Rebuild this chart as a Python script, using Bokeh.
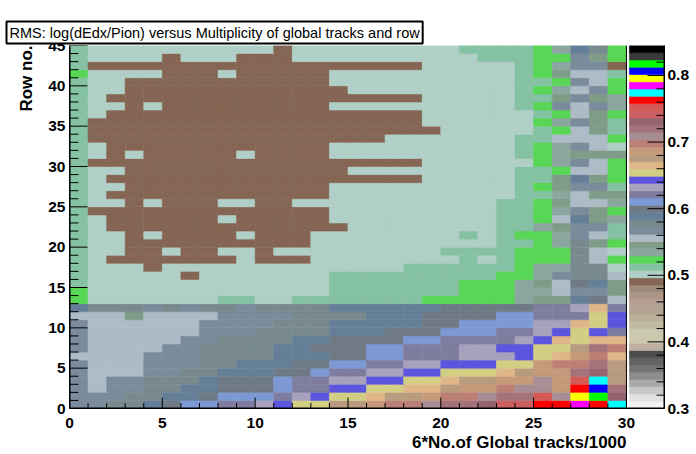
from bokeh.embed import file_html
from bokeh.resources import INLINE
from bokeh.plotting import figure
from bokeh.models import (ColumnDataSource, FixedTicker, LinearAxis, LinearColorMapper,
                          PrintfTickFormatter, Range1d, Span, Title)
from bokeh.transform import transform
import numpy as np

TITLE = "RMS: log(dEdx/Pion) versus Multiplicity of global tracks and row"
X_LABEL = "6*No.of Global tracks/1000"
Y_LABEL = "Row no."
X_TICKS = [0, 5, 10, 15, 20, 25, 30]
Y_TICKS = [0, 5, 10, 15, 20, 25, 30, 35, 40, 45]
X_MINOR = [i for i in range(0, 31) if i not in X_TICKS]
Y_MINOR = [i for i in range(0, 46) if i not in Y_TICKS]
Z_TICKS = [0.3, 0.4, 0.5, 0.6, 0.7, 0.8]
Z_MINOR = [0.32, 0.34, 0.36, 0.38, 0.42, 0.44, 0.46, 0.48, 0.52, 0.54, 0.56, 0.58,
           0.62, 0.64, 0.66, 0.68, 0.72, 0.74, 0.76, 0.78, 0.82, 0.84]

# Colour levels of the z axis, lowest value first
PALETTE = [
    "#f2f2f2", "#e2e2e2", "#c8c8c8", "#a9a9a9", "#8d8d8d", "#757575", "#636363", "#4b4b4b",
    "#bcaea0", "#ccc8ad", "#ccc8ad", "#c0bba3", "#baae97", "#b2a391", "#b5a096", "#ad9585",
    "#9e8a7a", "#856553", "#b0cfc6", "#85c1a3", "#57d755", "#8ba69f", "#7f9c88", "#adbbc6",
    "#7a8c9c", "#788a8e", "#657f98", "#6f7a85", "#7c99d5", "#7f7d9f", "#a8a1be", "#5c55dd",
    "#d2cf85", "#dfb688", "#b99b7f", "#c59a7a", "#bb7f76", "#a78e94", "#a4727a", "#936370",
    "#cc5f62", "#d55a55", "#ff0000", "#00ffff", "#ff00ff", "#ffff00", "#0000ff", "#00ff00",
    "#3a3a3a", "#000000",
]
Z_LOW, Z_HIGH = 0.3, 0.845

# RMS value of each symbol used in the rows below
RMS = {
    "b": 0.4908, "a": 0.5017, "g": 0.5126, "G": 0.5235, "s": 0.5344, "t": 0.5453,
    "l": 0.5562, "n": 0.5671, "m": 0.5780, "d": 0.5889, "e": 0.5998, "p": 0.6107,
    "v": 0.6216, "w": 0.6325, "u": 0.6434, "y": 0.6543, "o": 0.6652, "h": 0.6761,
    "c": 0.6870, "r": 0.6979, "q": 0.7088, "k": 0.7197, "j": 0.7306, "x": 0.7415,
    "z": 0.7524, "R": 0.7633, "C": 0.7742, "M": 0.7851, "Y": 0.7960, "B": 0.8069,
    "L": 0.8178,
}

# Row 44 first, row 0 last; a number after a symbol is how many bins repeat it
ROWS = [
    "g a10 b a9 g4 G s d m G",
    "g a4 b a3 b3 a10 g3 G2 n t G",
    "g b18 a5 g G s n n b",
    "G a4 b3 a b5 a10 g G t l l g",
    "g a2 b11 a10 g g G n l G",
    "g a2 b12 a9 g G s l n G",
    "g a b17 a5 g g t n t s",
    "g a2 b a b9 a10 g G n l n s",
    "g a b17 a6 g G l t G",
    "g b18 a6 G s n t g",
    "g b19 a5 g G l t g",
    "g b16 a7 g g l l l G",
    "g a b12 a10 g G s n l a",
    "g a b a b5 a b4 a10 g G s t t t",
    "g b18 a6 G s n l G",
    "g a2 b12 a9 g g G l l G",
    "g a b17 a5 g g t d t G",
    "g a2 b11 a10 g G t n n g",
    "g a b12 a10 g g s l t t",
    "g a2 b a b3 a2 b2 a11 g2 G t l l s",
    "g b13 a9 g2 G s n t G",
    "g a b6 a b5 a9 g2 G l d t s",
    "g a b13 a8 g2 s t n n g",
    "g a2 b a b4 a b3 a8 g a g G G s n l g",
    "g a2 b10 a10 g2 G s m t G",
    "g a2 b2 a b2 a2 b a9 g4 G3 m l a",
    "g a b7 a b3 a8 g a g G3 m l G",
    "g a3 b a13 g6 G s s m m a",
    "g a5 b a7 g9 G2 s n m m l",
    "g a13 g7 G3 s t l e d t",
    "G a13 g7 G3 s s l n n t",
    "G a7 g2 a2 g7 G5 s t t d e l",
    "d m3 n m n m2 n m4 d6 e5 v2 w o v",
    "l3 t l4 n4 m4 d3 e4 p2 v3 y u",
    "n l6 n4 m3 d5 e2 p4 w2 o y u",
    "n l6 n3 m4 d3 e3 p3 v2 w u y u v",
    "n l5 n2 m4 d2 e4 p2 v4 w u o y o o",
    "n l4 n2 m4 d2 e3 p2 v3 w2 u2 y y h k r",
    "l4 n3 m4 d3 e2 p2 v3 w3 u y o c r o",
    "n l3 n3 m2 d3 e2 p2 v2 w2 u3 y2 c r2 k h",
    "n l3 n2 m2 d3 e2 p v2 w2 u2 y3 o h c2 k j h",
    "n l n2 m3 d e3 p v2 w2 u2 y2 o h2 c2 q c z C h",
    "n l n2 m2 d2 e3 p v2 u2 y2 o2 h c2 r q2 c R B k",
    "n3 m2 d2 e p3 v w u y2 o h2 c r2 q k2 z q Y L j",
    "n2 m2 d e p2 v2 w u y2 h2 c r2 q k2 j x2 R2 M R C",
]


def decode(r):
    out = []
    for tok in r.split():
        out.extend([RMS[tok[0]]] * (int(tok[1:]) if tok[1:] else 1))
    assert len(out) == 30, r
    return out


grid = np.array([decode(r) for r in ROWS][::-1])
ny, nx = grid.shape
jj, ii = np.meshgrid(np.arange(ny), np.arange(nx), indexing="ij")
cells = ColumnDataSource(dict(x0=ii.ravel(), x1=ii.ravel() + 1, y0=jj.ravel(), y1=jj.ravel() + 1,
                              rms=grid.ravel()))
step = (Z_HIGH - Z_LOW) / len(PALETTE)
z_edges = np.array([Z_LOW + i * step for i in range(len(PALETTE) + 1)])
bar = ColumnDataSource(dict(y0=z_edges[:-1], y1=z_edges[1:], rms=z_edges[:-1] + step / 2))

FONT = "Liberation Sans"
BAR_LEFT, X_END = 30.16, 32.05
# Pixels per data unit of the frame, used for tick lengths given in pixels
PX_X, PX_Y = 18.567, 8.067

# One frame holds the heat map and, to its right, the colour scale with its own y range
p = figure(width=696, height=454, x_range=(0, X_END), y_range=(0, 45),
           output_backend="svg", toolbar_location=None,
           min_border_left=69, min_border_right=32, min_border_top=45, min_border_bottom=46)
p.grid.visible = False
p.outline_line_color = None
p.extra_y_ranges = {"z": Range1d(Z_LOW, Z_HIGH)}

mapper = LinearColorMapper(palette=PALETTE, low=Z_LOW, high=Z_HIGH)
p.quad(left="x0", right="x1", bottom="y0", top="y1", source=cells,
       fill_color=transform("rms", mapper), line_color=transform("rms", mapper), line_width=0.6)
p.quad(left=BAR_LEFT, right=X_END, bottom="y0", top="y1", source=bar, y_range_name="z",
       fill_color=transform("rms", mapper), line_color=transform("rms", mapper), line_width=0.6)

# Inward tick marks and frame lines, drawn above the cells
for ticks, length in ((X_TICKS, 11), (X_MINOR, 5.5)):
    p.segment(x0=ticks, x1=ticks, y0=[0] * len(ticks), y1=[length / PX_Y] * len(ticks),
              line_color="black", line_width=1)
for ticks, length in ((Y_TICKS, 18), (Y_MINOR, 9)):
    p.segment(x0=[0] * len(ticks), x1=[length / PX_X] * len(ticks), y0=ticks, y1=ticks,
              line_color="black", line_width=1)
for ticks, length in ((Z_TICKS, 17), (Z_MINOR, 8)):
    p.segment(x0=[X_END] * len(ticks), x1=[X_END - length / PX_X] * len(ticks), y0=ticks, y1=ticks,
              y_range_name="z", line_color="black", line_width=1)
p.segment(x0=[0, 0, X_END], x1=[X_END, 0, X_END], y0=[0, 0, 0], y1=[0, 45, 45],
          line_color="black", line_width=2)

za = LinearAxis(y_range_name="z", formatter=PrintfTickFormatter(format="%.1f"))
p.add_layout(za, "right")

for ax, ticks, standoff in ((p.xaxis[0], X_TICKS, 9), (p.yaxis[0], Y_TICKS, 4), (za, Z_TICKS, 3)):
    ax.ticker = FixedTicker(ticks=ticks)
    ax.major_label_text_font = FONT
    ax.major_label_text_font_style = "bold"
    ax.major_label_text_font_size = "15.5px"
    ax.major_label_text_color = "black"
    ax.major_label_standoff = standoff
    ax.major_tick_in = 0
    ax.minor_tick_in = 0
    ax.major_tick_out = 0
    ax.minor_tick_out = 0
    ax.axis_line_color = "black"

p.add_layout(Span(location=30, dimension="height", line_color="black", line_width=1))

p.add_layout(Title(text=X_LABEL, align="right", offset=38, standoff=1, text_font=FONT,
                   text_font_style="bold", text_font_size="17px", text_color="black"), "below")
p.add_layout(Title(text=Y_LABEL, align="right", standoff=20, text_font=FONT,
                   text_font_style="bold", text_font_size="17px", text_color="black"), "left")

# Empty axis above the frame: it only lifts the title box to the top of the page
p.add_layout(LinearAxis(ticker=FixedTicker(ticks=[]), axis_line_color=None, major_tick_out=21,
                        major_tick_in=0, minor_tick_out=0, minor_tick_in=0,
                        major_label_standoff=0, major_label_text_font_size="0px"), "above")

box = {"padding": 3} if "padding" in Title.properties() else {}
p.add_layout(Title(text=TITLE, align="left", offset=-63, standoff=4, text_font=FONT,
                   text_font_style="normal", text_font_size="14.5px", text_color="black",
                   background_fill_color="white", border_line_color="black",
                   border_line_width=2, **box), "above")

open("out.html", "w").write(file_html(p, INLINE))
